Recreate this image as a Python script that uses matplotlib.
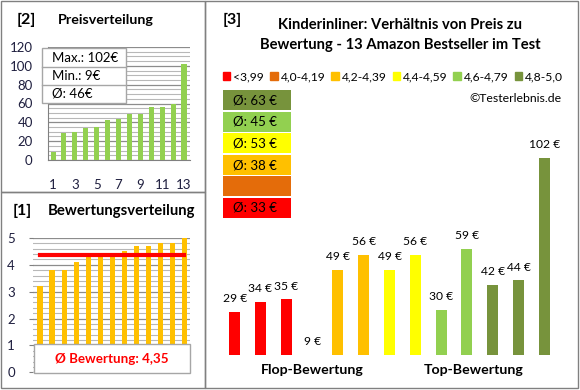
import matplotlib
matplotlib.use("Agg")
import matplotlib.pyplot as plt
from matplotlib.patches import Rectangle
from matplotlib.ticker import MultipleLocator

plt.rcParams['font.family'] = ['Lato', 'DejaVu Sans']

# Daten
prices = [29, 34, 35, 9, 49, 56, 49, 56, 30, 59, 42, 44, 102]
price_labels = [f"{p} €" for p in prices]
bar_colors = ["#FF0000", "#FF0000", "#FF0000", "#FFC000", "#FFC000", "#FFC000",
              "#FFFF00", "#FFFF00", "#92D050", "#92D050", "#77933C", "#77933C", "#77933C"]
sorted_prices = sorted(prices)
ratings = [3.2, 3.8, 3.8, 4.1, 4.3, 4.3, 4.4, 4.5, 4.7, 4.7, 4.8, 4.8, 5.0]
avg_rating = 4.35
legend_labels = ["<3,99", "4,0-4,19", "4,2-4,39", "4,4-4,59", "4,6-4,79", "4,8-5,0"]
legend_colors = ["#FF0000", "#E46C0A", "#FFC000", "#FFFF00", "#92D050", "#77933C"]
group_avgs = ["Ø: 63 €", "Ø: 45 €", "Ø: 53 €", "Ø: 38 €", "", "Ø: 33 €"]
group_colors = ["#77933C", "#92D050", "#FFFF00", "#FFC000", "#E46C0A", "#FF0000"]
stats = ["Max.: 102€", "Min.: 9€", "Ø: 46€"]

W, H = 580, 390
fig = plt.figure(figsize=(5.8, 3.9), dpi=100)


def box(x0, y0, x1, y1):
    # Pixelkoordinaten (oben links) -> figure fraction
    return [x0 / W, 1 - y1 / H, (x1 - x0) / W, (y1 - y0) / H]


def ftext(x, y, s, **kw):
    fig.text(x / W, 1 - y / H, s, **kw)


def frect(x0, y0, x1, y1, **kw):
    fig.add_artist(Rectangle((x0 / W, 1 - y1 / H), (x1 - x0) / W, (y1 - y0) / H,
                             transform=fig.transFigure, **kw))


# Rahmen
frect(1, 1, 205, 192, fill=False, edgecolor="#808080", lw=1)
frect(1, 192, 205, 388, fill=False, edgecolor="#808080", lw=1)
frect(205, 1, 578, 388, fill=False, edgecolor="#808080", lw=1)

# ---------------- [2] Preisverteilung
ax2 = fig.add_axes(box(48, 47, 190, 160))
idx = list(range(1, 14))
ax2.bar(idx, sorted_prices, width=0.46, color="#92D050", zorder=3)
ax2.set_ylim(0, 120)
ax2.set_xlim(0.54, 13.55)
ax2.yaxis.set_major_locator(MultipleLocator(20))
ax2.yaxis.set_minor_locator(MultipleLocator(5))
ax2.grid(axis="y", which="major", color="#8c8c8c", lw=0.9)
ax2.grid(axis="y", which="minor", color="#b8b8b8", lw=0.8)
ax2.set_xticks(range(1, 14, 2))
for s in ["top", "right"]:
    ax2.spines[s].set_visible(False)
ax2.spines["left"].set_color("#808080")
ax2.spines["bottom"].set_color("#808080")
ax2.tick_params(axis="both", which="both", length=0, labelsize=9.5, colors="#1f1f3f")
ax2.tick_params(axis="x", pad=14)
ax2.tick_params(axis="y", pad=11)

ftext(17, 20, "[2]", fontsize=11.5, fontweight="bold", va="center")
ftext(58, 20, "Preisverteilung", fontsize=10.3, fontweight="bold", va="center")

frect(42, 48, 126, 103, facecolor="white", edgecolor="#a6a6a6", lw=1, zorder=5)
for yy in [67, 85]:
    fig.add_artist(plt.Line2D([42 / W, 126 / W], [1 - yy / H, 1 - yy / H],
                              transform=fig.transFigure, color="#a6a6a6", lw=1, zorder=6))
for i, s in enumerate(stats):
    ftext(52, 58 + i * 18, s, fontsize=9.5, va="center", zorder=7)

# ---------------- [1] Bewertungsverteilung
ax1 = fig.add_axes(box(33, 238, 190, 372.3))
ax1.bar(idx, ratings, width=0.42, color="#FFC000", zorder=3)
ax1.plot([1, 13], [avg_rating, avg_rating], color="#FF0000", lw=3, zorder=4)
ax1.set_ylim(0, 5)
ax1.set_xlim(0.42, 13.47)
ax1.yaxis.set_major_locator(MultipleLocator(1))
ax1.yaxis.set_minor_locator(MultipleLocator(0.2))
ax1.grid(axis="y", which="major", color="#8c8c8c", lw=0.9)
ax1.grid(axis="y", which="minor", color="#b8b8b8", lw=0.8)
ax1.set_xticks([])
for s in ["top", "right", "bottom", "left"]:
    ax1.spines[s].set_visible(False)
ax1.tick_params(axis="y", which="major", length=3, color="#808080", labelsize=9.5,
                labelcolor="#1f1f3f", pad=10)
ax1.tick_params(axis="y", which="minor", length=0)

ftext(13, 211, "[1]", fontsize=11.5, fontweight="bold", va="center")
ftext(48, 211, "Bewertungsverteilung", fontsize=10.7, fontweight="bold", va="center")

frect(34, 344, 190, 373, facecolor="white", edgecolor="#a6a6a6", lw=1, zorder=5)
ftext(112, 359, "Ø Bewertung: " + f"{avg_rating:.2f}".replace(".", ","),
      fontsize=9.6, fontweight="bold", color="#FF0000", ha="center", va="center", zorder=7)

# ---------------- [3] Preis zu Bewertung
ax3 = fig.add_axes(box(221.8, 119.5, 557.2, 354.5))
pos = list(range(len(prices)))
ax3.bar(pos, prices, width=0.43, color=bar_colors, bottom=0)
ax3.set_ylim(9, 120)
ax3.set_xlim(-0.5, 12.5)
ax3.axis("off")
for i, (p, lab) in enumerate(zip(prices, price_labels)):
    ax3.annotate(lab, (i, p), xytext=(0, 9.5), textcoords="offset points",
                 ha="center", va="center", fontsize=8.7)

ftext(223, 20, "[3]", fontsize=11.5, fontweight="bold", va="center")
ftext(400, 25, "Kinderinliner: Verhältnis von Preis zu", fontsize=10.6,
      fontweight="bold", ha="center", va="center")
ftext(400, 45, "Bewertung - 13 Amazon Bestseller im Test", fontsize=10.6,
      fontweight="bold", ha="center", va="center")

handles = [Rectangle((0, 0), 1, 1, color=c) for c in legend_colors]
fig.legend(handles, legend_labels, loc="center", bbox_to_anchor=(393 / W, 1 - 77 / H),
           ncol=6, frameon=False, fontsize=8.7, handlelength=0.6, handleheight=0.6,
           handletextpad=0.25, columnspacing=0.5, borderpad=0)

ftext(562, 98, "©Testerlebnis.de", fontsize=8.8, ha="right", va="center")

for i, (s, c) in enumerate(zip(group_avgs, group_colors)):
    y0 = 90.5 + i * 21.5
    frect(223, y0, 291, y0 + 19.5, facecolor=c, edgecolor="none")
    ftext(233, y0 + 10, s, fontsize=9.5, va="center")

ftext(312, 370, "Flop-Bewertung", fontsize=10.2, fontweight="bold", ha="center", va="center")
ftext(474, 370, "Top-Bewertung", fontsize=10.2, fontweight="bold", ha="center", va="center")

fig.savefig("out.png", dpi=100)
